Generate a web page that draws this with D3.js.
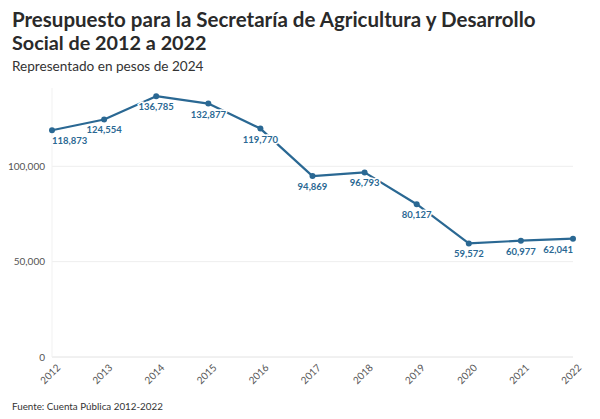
<!DOCTYPE html>
<html><head><meta charset="utf-8">
<script src="https://cdn.jsdelivr.net/npm/d3@7"></script>
<style>body{margin:0;background:#fff;} svg{display:block;font-family:Lato,"Noto Sans",sans-serif;}</style>
</head><body>
<svg id="c" width="600" height="419"></svg>
<script>
const years = ["2012","2013","2014","2015","2016","2017","2018","2019","2020","2021","2022"];
const values = [118873,124554,136785,132877,119770,94869,96793,80127,59572,60977,62041];
const yTicks = [0,50000,100000];
const title1 = "Presupuesto para la Secretaría de Agricultura y Desarrollo";
const title2 = "Social de 2012 a 2022";
const subtitle = "Representado en pesos de 2024";
const source = "Fuente: Cuenta Pública 2012-2022";

const svg = d3.select("#c");
const color = "#2a6893";
const x = d3.scalePoint().domain(years).range([52,573]);
const y = d3.scaleLinear().domain([0,140000]).range([357,90]);

svg.append("text").attr("x",12).attr("y",27).attr("font-size",20.5).attr("font-weight",700).attr("fill","#2a2a2a").text(title1);
svg.append("text").attr("x",12).attr("y",50).attr("font-size",19.8).attr("font-weight",700).attr("fill","#2a2a2a").text(title2);
svg.append("text").attr("x",12).attr("y",71).attr("font-size",13.6).attr("fill","#333").text(subtitle);

// grid
const g = svg.append("g");
g.selectAll("line.grid").data(yTicks).join("line")
 .attr("x1",52).attr("x2",573).attr("y1",d=>y(d)).attr("y2",d=>y(d))
 .attr("stroke",d=>d===0?"#e2e2e2":"#eeeeee").attr("stroke-width",1);
g.append("line").attr("x1",52).attr("x2",52).attr("y1",88).attr("y2",357).attr("stroke","#f1f1f1");

const yAxis = d3.axisLeft(y).tickValues(yTicks).tickFormat(d3.format(",")).tickSize(0).tickPadding(7);
const ya = svg.append("g").attr("transform","translate(52,0)").call(yAxis);
ya.select(".domain").remove();
ya.selectAll("text").attr("font-size",10).attr("fill","#555").attr("font-family","Lato,sans-serif");

const xAxis = d3.axisBottom(x).tickSize(0).tickPadding(5);
const xa = svg.append("g").attr("transform","translate(0,357)").call(xAxis);
xa.select(".domain").remove();
xa.selectAll("text").attr("font-size",10).attr("fill","#555").attr("font-family","Lato,sans-serif")
  .attr("text-anchor","end").attr("dx","-0.2em").attr("dy","0.9em").attr("transform","rotate(-45)");

const line = d3.line().x((d,i)=>x(years[i])).y(d=>y(d));
svg.append("path").datum(values).attr("d",line).attr("fill","none").attr("stroke",color).attr("stroke-width",2.2).attr("stroke-linejoin","round");
svg.selectAll("circle.pt").data(values).join("circle")
 .attr("cx",(d,i)=>x(years[i])).attr("cy",d=>y(d)).attr("r",3).attr("fill",color);

const fmt = d3.format(",");
svg.selectAll("text.lbl").data(values).join("text")
 .attr("x",(d,i)=>x(years[i])).attr("y",d=>y(d)+14)
 .attr("text-anchor",(d,i)=>i===0?"start":(i===values.length-1?"end":"middle"))
 .attr("font-size",9.5).attr("font-weight",700).attr("fill",color)
 .attr("stroke","#fff").attr("stroke-width",3).attr("paint-order","stroke")
 .text(d=>fmt(d));

svg.append("text").attr("x",12).attr("y",410).attr("font-size",9.8).attr("fill","#333").text(source);
</script>
</body></html>
